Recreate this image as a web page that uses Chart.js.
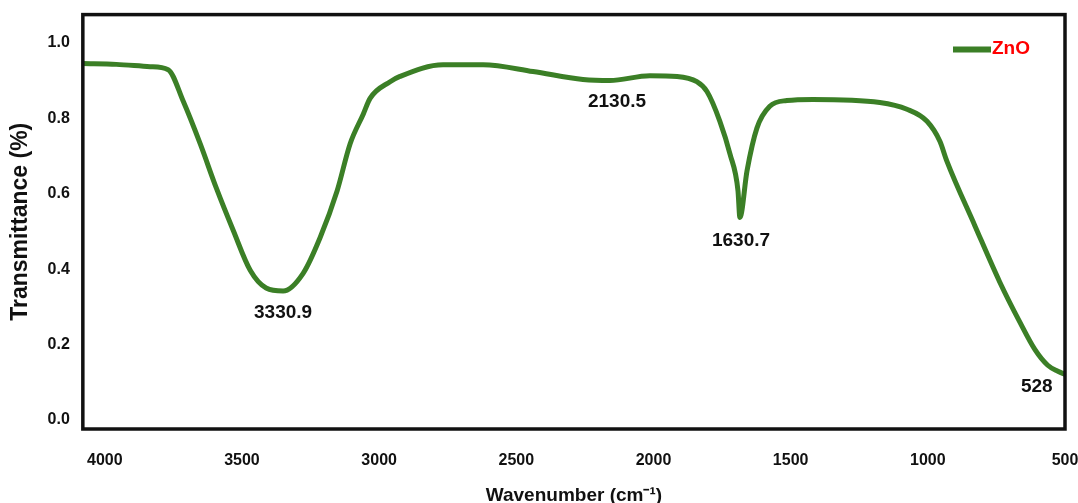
<!DOCTYPE html>
<html>
<head>
<meta charset="utf-8">
<script src="https://cdn.jsdelivr.net/npm/chart.js@4/dist/chart.umd.min.js"></script>
<style>
  html, body { margin:0; padding:0; background:#fff; }
  #wrap { width:1078px; height:503px; }
</style>
</head>
<body>
<div id="wrap"><canvas id="canvasFtir"></canvas></div>
<script>

// wavenumber (cm-1) and transmittance
let wavenumber=[4080,3958,3835,3769,3714,3652,3594,3532,3470,3412,3350,3277,3215,3153,3106,3058,3033,2960,2924,2767,2621,2439,2257,2159,2013,1914,1842,1805,1758,1721,1692,1685,1659,1623,1576,1514,1419,1175,1076,1003,956,931,829,738,665,610,563,526,500]
let transmit=[0.945,0.943,0.937,0.929,0.845,0.732,0.616,0.503,0.397,0.350,0.342,0.389,0.484,0.608,0.732,0.811,0.853,0.897,0.911,0.942,0.942,0.924,0.903,0.900,0.913,0.911,0.897,0.871,0.792,0.705,0.608,0.537,0.661,0.774,0.832,0.847,0.850,0.842,0.824,0.792,0.739,0.687,0.516,0.366,0.260,0.187,0.145,0.129,0.121]

let xTicks=[4000,3500,3000,2500,2000,1500,1000,500]
let yTicks=[0,0.2,0.4,0.6,0.8,1.0]

// peak annotations
let peakText=['3330.9','2130.5','1630.7','528']
let peakX=[3350,2133,1681,603]
let peakY=[0.284,0.845,0.476,0.089]

function buildPoints(){
    let arr=[]
    for (let i=0;i<wavenumber.length;i++){
        arr.push({x:wavenumber[i],y:transmit[i]})
    }
    return arr;
}

let fontName='"Liberation Sans", Arial, sans-serif'

let frameBox={
    id:'frameBox',
    afterDatasetsDraw(chart){
        let a=chart.chartArea
        let ctx=chart.ctx
        ctx.save()
        ctx.strokeStyle='#111'
        ctx.lineWidth=3.5
        ctx.strokeRect(a.left,a.top,a.right-a.left,a.bottom-a.top)
        ctx.restore()
    }
}

let peakLabels={
    id:'peakLabels',
    afterDatasetsDraw(chart){
        let ctx=chart.ctx
        let xs=chart.scales.x
        let ys=chart.scales.y
        ctx.save()
        ctx.font='bold 19px '+fontName
        ctx.fillStyle='#111'
        ctx.textAlign='center'
        ctx.textBaseline='middle'
        for (let i=0;i<peakText.length;i++){
            ctx.fillText(peakText[i],xs.getPixelForValue(peakX[i]),ys.getPixelForValue(peakY[i]))
        }
        ctx.restore()
    }
}

// legend sits inside the frame, top right
let insideLegend={
    id:'insideLegend',
    afterDatasetsDraw(chart){
        let a=chart.chartArea
        let ds=chart.data.datasets[0]
        let ctx=chart.ctx
        let y=a.top+35
        ctx.save()
        ctx.strokeStyle=ds.borderColor
        ctx.lineWidth=6
        ctx.beginPath()
        ctx.moveTo(a.right-112,y)
        ctx.lineTo(a.right-74,y)
        ctx.stroke()
        ctx.font='bold 19px '+fontName
        ctx.fillStyle='#ff0000'
        ctx.textBaseline='middle'
        ctx.fillText(ds.label,a.right-73,y-1)
        ctx.restore()
    }
}

let tickFont={family:fontName,size:16,weight:'bold'}

let myChart={
    type:'line',
    data:{
        datasets:[{
            label:'ZnO',
            data:buildPoints(),
            borderColor:'#3b7f26',
            backgroundColor:'#3b7f26',
            borderWidth:5,
            pointRadius:0,
            fill:false,
            cubicInterpolationMode:'monotone'
        }]
    },
    options:{
        responsive:true,
        maintainAspectRatio:false,
        animation:false,
        layout:{padding:{top:5,right:0,left:7,bottom:-4}},
        plugins:{
            tooltip:{enabled:false},
            legend:{display:false}
        },
        scales:{
            x:{
                type:'linear',
                reverse:true,
                min:500,
                max:4080,
                afterBuildTicks:(axis)=>{ axis.ticks=xTicks.map(v=>({value:v})) },
                afterFit:(axis)=>{ axis.paddingRight=13 },
                grid:{display:false},
                border:{display:false},
                ticks:{
                    color:'#111',
                    font:tickFont,
                    padding:14,
                    maxRotation:0,
                    autoSkip:false,
                    callback:(v)=>String(v)
                },
                title:{display:true,text:'Wavenumber (cm⁻¹)',color:'#111',font:{family:fontName,size:19,weight:'bold'},padding:{top:0,bottom:0}}
            },
            y:{
                min:-0.024,
                max:1.075,
                afterBuildTicks:(axis)=>{ axis.ticks=yTicks.map(v=>({value:v})) },
                grid:{display:false},
                border:{display:false},
                ticks:{
                    color:'#111',
                    font:tickFont,
                    padding:5,
                    callback:(v)=>Number(v).toFixed(1)
                },
                title:{display:true,text:'Transmittance (%)',color:'#111',font:{family:fontName,size:23,weight:'bold'},padding:{top:0,bottom:8}}
            }
        }
    },
    plugins:[frameBox,peakLabels,insideLegend]
};

let ctx=document.getElementById('canvasFtir').getContext('2d');
new Chart(ctx,myChart);

</script>
</body>
</html>
